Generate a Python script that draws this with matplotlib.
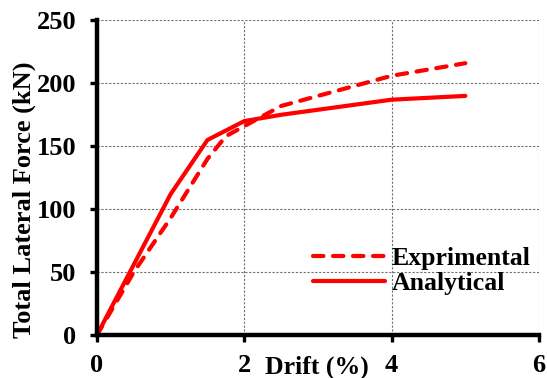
import matplotlib
matplotlib.use("Agg")
import matplotlib.pyplot as plt
import matplotlib.transforms as mtransforms

exp_drift = [0, 0.5, 1.0, 1.5, 1.75, 2.0, 2.5, 4.0, 5.0]
exp_force = [0, 50, 93, 140, 158, 166, 182, 206, 216]
ana_drift = [0, 1.0, 1.5, 2.0, 2.5, 4.0, 5.0]
ana_force = [0, 112, 155, 170, 175, 187, 190]
xticks = [0, 2, 4, 6]
yticks = [0, 50, 100, 150, 200, 250]

plt.rcParams['font.family'] = ['Liberation Serif', 'DejaVu Serif']
plt.rcParams['font.weight'] = 'bold'

fig = plt.figure(figsize=(5.47, 3.78), dpi=100)
ax = fig.add_axes([0.1773, 0.1138, 0.9854 - 0.1773, 0.946 - 0.1138])

ax.plot(exp_drift, exp_force, color='#ff0000', lw=3.0, ls=(0, (2.5, 2.3)),
        label='Exprimental', solid_capstyle='round', dash_capstyle='round')
ax.plot(ana_drift, ana_force, color='#ff0000', lw=3.0, ls='-',
        label='Analytical', solid_capstyle='round')

ax.set_xlim(0, 6)
ax.set_ylim(0, 250)
ax.set_xticks(xticks)
ax.set_yticks(yticks)
ax.tick_params(axis='both', labelsize=19, width=2.4, length=5, direction='out')
ax.tick_params(axis='y', pad=10)
ax.tick_params(axis='x', pad=9)
for lab in ax.get_xticklabels() + ax.get_yticklabels():
    lab.set_fontweight('bold')

ax.grid(True, color='#707070', ls=(0, (2, 1.5)), lw=0.8)
ax.set_axisbelow(True)
for s in ['top', 'right']:
    ax.spines[s].set_visible(False)
for s in ['left', 'bottom']:
    ax.spines[s].set_linewidth(3.2)
    ax.spines[s].set_color('black')
    ax.spines[s].set_zorder(5)

fig.text(24 / 547, 1 - 200 / 378, 'Total Lateral Force (kN)', rotation=90,
         fontsize=19, fontweight='bold', ha='center', va='center')
trans = mtransforms.blended_transform_factory(ax.transData, ax.transAxes)
ax.text(2.99, -0.102, 'Drift (%)', transform=trans, fontsize=18.5,
        fontweight='bold', ha='center', va='center')

leg = ax.legend(loc='center left', bbox_to_anchor=((313 - 97) / 442, (335 - 271) / 314.5),
                frameon=False, fontsize=18.5, handlelength=2.8, handletextpad=0.25,
                labelspacing=0.05, borderaxespad=0.0, borderpad=0.0)
for t in leg.get_texts():
    t.set_fontweight('bold')

fig.savefig('out.png', dpi=100)
